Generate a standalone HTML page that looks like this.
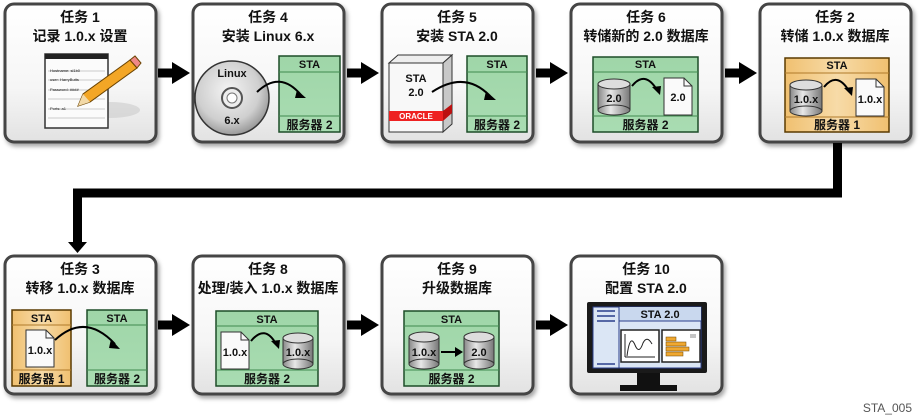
<!DOCTYPE html>
<html><head><meta charset="utf-8"><style>
html,body{margin:0;padding:0;background:#fff;}
svg{display:block;}
text{font-family:"Liberation Sans","Noto Sans CJK SC",sans-serif;font-weight:bold;fill:#111;}
</style></head><body>
<svg width="922" height="418" viewBox="0 0 922 418" xmlns="http://www.w3.org/2000/svg">
<defs>
<linearGradient id="card" x1="0" y1="0" x2="0" y2="1"><stop offset="0" stop-color="#ffffff"/><stop offset="0.6" stop-color="#f6f6f6"/><stop offset="1" stop-color="#e2e2e2"/></linearGradient>
<linearGradient id="grn" x1="0" y1="0" x2="0" y2="1"><stop offset="0" stop-color="#9fd6a8"/><stop offset="1" stop-color="#a9dcb2"/></linearGradient>
<linearGradient id="org" x1="0" y1="0" x2="1" y2="0"><stop offset="0" stop-color="#f0c070"/><stop offset="0.5" stop-color="#f7dba8"/><stop offset="1" stop-color="#f0c070"/></linearGradient>
<linearGradient id="cyl" x1="0" y1="0" x2="1" y2="0"><stop offset="0" stop-color="#888"/><stop offset="0.4" stop-color="#e8e8e8"/><stop offset="1" stop-color="#777"/></linearGradient>
<radialGradient id="cd" cx="0.45" cy="0.4" r="0.6"><stop offset="0" stop-color="#f4f4f4"/><stop offset="0.7" stop-color="#cfcfcf"/><stop offset="1" stop-color="#9a9a9a"/></radialGradient>
<filter id="sh" x="-10%" y="-10%" width="125%" height="125%"><feDropShadow dx="2" dy="3" stdDeviation="2" flood-color="#000" flood-opacity="0.35"/></filter>
<g id="arr"><rect x="0" y="-4.5" width="15" height="9" fill="#000"/><polygon points="14,-11 32,0 14,11" fill="#000"/></g>
</defs>

<!-- cards -->
<g fill="url(#card)" stroke="#444" stroke-width="3" filter="url(#sh)">
<rect x="5" y="4" width="151" height="138" rx="9"/>
<rect x="193" y="4" width="151" height="138" rx="9"/>
<rect x="382" y="4" width="151" height="138" rx="9"/>
<rect x="571" y="4" width="151" height="138" rx="9"/>
<rect x="760" y="4" width="151" height="138" rx="9"/>
<rect x="5" y="256" width="151" height="138" rx="9"/>
<rect x="193" y="256" width="151" height="138" rx="9"/>
<rect x="382" y="256" width="151" height="138" rx="9"/>
<rect x="571" y="256" width="151" height="138" rx="9"/>
</g>

<!-- arrows -->
<use href="#arr" x="158" y="73"/><use href="#arr" x="347" y="73"/><use href="#arr" x="536" y="73"/><use href="#arr" x="725" y="73"/>
<use href="#arr" x="158" y="325"/><use href="#arr" x="347" y="325"/><use href="#arr" x="536" y="325"/>
<path d="M837.5 143 V193 H77.5 V244" fill="none" stroke="#000" stroke-width="9" stroke-linejoin="miter"/>
<polygon points="68,242 87,242 77.5,253" fill="#000"/>

<!-- titles -->
<g font-size="14" text-anchor="middle">
<text x="80" y="22">任务 1</text><text x="80" y="41">记录 1.0.x 设置</text>
<text x="268" y="22">任务 4</text><text x="268" y="41">安装 Linux 6.x</text>
<text x="457" y="22">任务 5</text><text x="457" y="41">安装 STA 2.0</text>
<text x="646" y="22">任务 6</text><text x="646" y="41">转储新的 2.0 数据库</text>
<text x="835" y="22">任务 2</text><text x="835" y="41">转储 1.0.x 数据库</text>
<text x="80" y="274">任务 3</text><text x="80" y="293">转移 1.0.x 数据库</text>
<text x="268" y="274">任务 8</text><text x="268" y="293">处理/装入 1.0.x 数据库</text>
<text x="457" y="274">任务 9</text><text x="457" y="293">升级数据库</text>
<text x="646" y="274">任务 10</text><text x="646" y="293">配置 STA 2.0</text>
</g>

<!-- task1 notepad -->
<ellipse cx="110" cy="110" rx="30" ry="8" fill="#ccc" opacity="0.6"/>
<rect x="45" y="54" width="63" height="74" fill="#fbfbfb" stroke="#333" stroke-width="1.5"/>
<rect x="45" y="54" width="63" height="5" fill="#222"/>
<g stroke="#bbb" stroke-width="0.8"><line x1="48" y1="71" x2="105" y2="71"/><line x1="48" y1="80" x2="105" y2="80"/><line x1="48" y1="90" x2="105" y2="90"/><line x1="48" y1="99" x2="105" y2="99"/><line x1="48" y1="109" x2="105" y2="109"/><line x1="48" y1="118" x2="105" y2="118"/></g>
<g font-size="4" font-weight="normal"><text x="50" y="72" style="font-weight:normal">Hostname: sl1b0</text><text x="50" y="81" style="font-weight:normal">user: HarryButts</text><text x="50" y="91" style="font-weight:normal">Password: ####</text><text x="50" y="110" style="font-weight:normal">Ports: a1</text></g>
<polygon points="78,106 83,94 130,60 137,68 90,102" fill="#f3a626" stroke="#6b4300" stroke-width="1"/>
<polygon points="130,60 135,56 141,63 137,68" fill="#e88" stroke="#6b4300" stroke-width="1"/>
<polygon points="78,106 83,94 90,102" fill="#f2d9a8"/>

<!-- task4 CD -->
<circle cx="232" cy="98" r="37" fill="url(#cd)" stroke="#333" stroke-width="1.5"/>
<circle cx="232" cy="98" r="10" fill="#eee" stroke="#555" stroke-width="2"/>
<circle cx="232" cy="98" r="5" fill="#fff" stroke="#777"/>
<text x="232" y="77" font-size="11" text-anchor="middle">Linux</text>
<text x="232" y="124" font-size="11" text-anchor="middle">6.x</text>
<g id="srv4">
<rect x="279" y="56" width="61" height="76" fill="url(#grn)" stroke="#1d4d28" stroke-width="1.5"/>
<line x1="279" y1="72" x2="340" y2="72" stroke="#3f8a4e"/><line x1="279" y1="116" x2="340" y2="116" stroke="#3f8a4e"/>
<text x="309.5" y="68" font-size="11" text-anchor="middle">STA</text>
<text x="309.5" y="129" font-size="12" text-anchor="middle">服务器 2</text>
</g>
<path d="M257 92 Q280 70 301 95" fill="none" stroke="#000" stroke-width="2"/><polygon points="297,90 306,98 295,98" fill="#000"/>

<!-- task5 box -->
<polygon points="389,63 398,55 452,55 443,63" fill="#eee" stroke="#333"/>
<polygon points="443,63 452,55 452,124 443,132" fill="#c8c8c8" stroke="#333"/>
<rect x="389" y="63" width="54" height="69" fill="#f8f8f8" stroke="#333"/>
<rect x="389" y="111" width="54" height="10" fill="#e22"/><polygon points="443,111 452,104 452,113 443,121" fill="#b11"/>
<text x="416" y="119" font-size="8" text-anchor="middle" style="fill:#fff">ORACLE</text>
<text x="416" y="82" font-size="11" text-anchor="middle">STA</text>
<text x="416" y="96" font-size="11" text-anchor="middle">2.0</text>
<rect x="467" y="56" width="60" height="76" fill="url(#grn)" stroke="#1d4d28" stroke-width="1.5"/>
<line x1="467" y1="72" x2="527" y2="72" stroke="#3f8a4e"/><line x1="467" y1="116" x2="527" y2="116" stroke="#3f8a4e"/>
<text x="497" y="68" font-size="11" text-anchor="middle">STA</text>
<text x="497" y="129" font-size="12" text-anchor="middle">服务器 2</text>
<path d="M432 92 Q465 70 490 96" fill="none" stroke="#000" stroke-width="2"/><polygon points="486,91 496,100 484,100" fill="#000"/>

<!-- task6 -->
<rect x="593" y="57" width="105" height="75" fill="url(#grn)" stroke="#1d4d28" stroke-width="1.5"/>
<line x1="593" y1="72" x2="698" y2="72" stroke="#3f8a4e"/><line x1="593" y1="116" x2="698" y2="116" stroke="#3f8a4e"/>
<text x="645.5" y="68" font-size="11" text-anchor="middle">STA</text>
<text x="645.5" y="129" font-size="12" text-anchor="middle">服务器 2</text>
<g><rect x="598" y="84" width="32" height="26" fill="url(#cyl)" stroke="#333"/><ellipse cx="614" cy="110" rx="16" ry="5" fill="url(#cyl)" stroke="#333"/><ellipse cx="614" cy="84" rx="16" ry="5" fill="#ddd" stroke="#333"/><text x="614" y="102" font-size="11" text-anchor="middle">2.0</text></g>
<polygon points="664,78 684,78 692,86 692,115 664,115" fill="#fafafa" stroke="#333"/><polyline points="684,78 684,86 692,86" fill="none" stroke="#333"/>
<text x="678" y="101" font-size="11" text-anchor="middle">2.0</text>
<path d="M632 86 Q645 70 657 90" fill="none" stroke="#000" stroke-width="2"/><polygon points="652,87 660,95 661,86" fill="#000"/>

<!-- task2 -->
<rect x="785" y="58" width="104" height="74" fill="url(#org)" stroke="#5a3a00" stroke-width="1.5"/>
<line x1="785" y1="73" x2="889" y2="73" stroke="#b07a2a"/><line x1="785" y1="117" x2="889" y2="117" stroke="#b07a2a"/>
<text x="837" y="69" font-size="11" text-anchor="middle">STA</text>
<text x="837" y="129" font-size="12" text-anchor="middle">服务器 1</text>
<g><rect x="790" y="85" width="32" height="26" fill="url(#cyl)" stroke="#333"/><ellipse cx="806" cy="111" rx="16" ry="5" fill="url(#cyl)" stroke="#333"/><ellipse cx="806" cy="85" rx="16" ry="5" fill="#ddd" stroke="#333"/><text x="806" y="103" font-size="11" text-anchor="middle">1.0.x</text></g>
<polygon points="856,79 876,79 884,87 884,116 856,116" fill="#fafafa" stroke="#333"/><polyline points="876,79 876,87 884,87" fill="none" stroke="#333"/>
<text x="870" y="103" font-size="11" text-anchor="middle">1.0.x</text>
<path d="M824 87 Q837 71 849 91" fill="none" stroke="#000" stroke-width="2"/><polygon points="844,88 852,96 853,87" fill="#000"/>

<!-- task3 -->
<rect x="12" y="310" width="59" height="76" fill="url(#org)" stroke="#5a3a00" stroke-width="1.5"/>
<line x1="12" y1="325" x2="71" y2="325" stroke="#b07a2a"/><line x1="12" y1="370" x2="71" y2="370" stroke="#b07a2a"/>
<text x="41.5" y="322" font-size="11" text-anchor="middle">STA</text>
<text x="41.5" y="383" font-size="12" text-anchor="middle">服务器 1</text>
<polygon points="26,330 46,330 54,338 54,367 26,367" fill="#fafafa" stroke="#333"/><polyline points="46,330 46,338 54,338" fill="none" stroke="#333"/>
<text x="40" y="354" font-size="11" text-anchor="middle">1.0.x</text>
<rect x="87" y="310" width="60" height="76" fill="url(#grn)" stroke="#1d4d28" stroke-width="1.5"/>
<line x1="87" y1="325" x2="147" y2="325" stroke="#3f8a4e"/><line x1="87" y1="370" x2="147" y2="370" stroke="#3f8a4e"/>
<text x="117" y="322" font-size="11" text-anchor="middle">STA</text>
<text x="117" y="383" font-size="12" text-anchor="middle">服务器 2</text>
<path d="M55 340 Q85 312 115 344" fill="none" stroke="#000" stroke-width="2"/><polygon points="111,339 120,349 109,348" fill="#000"/>

<!-- task8 -->
<rect x="216" y="311" width="102" height="75" fill="url(#grn)" stroke="#1d4d28" stroke-width="1.5"/>
<line x1="216" y1="326" x2="318" y2="326" stroke="#3f8a4e"/><line x1="216" y1="370" x2="318" y2="370" stroke="#3f8a4e"/>
<text x="267" y="323" font-size="11" text-anchor="middle">STA</text>
<text x="267" y="383" font-size="12" text-anchor="middle">服务器 2</text>
<polygon points="221,332 241,332 249,340 249,369 221,369" fill="#fafafa" stroke="#333"/><polyline points="241,332 241,340 249,340" fill="none" stroke="#333"/>
<text x="235" y="356" font-size="11" text-anchor="middle">1.0.x</text>
<g><rect x="283" y="338" width="30" height="26" fill="url(#cyl)" stroke="#333"/><ellipse cx="298" cy="364" rx="15" ry="5" fill="url(#cyl)" stroke="#333"/><ellipse cx="298" cy="338" rx="15" ry="5" fill="#ddd" stroke="#333"/><text x="298" y="356" font-size="11" text-anchor="middle">1.0.x</text></g>
<path d="M251 341 Q265 324 276 344" fill="none" stroke="#000" stroke-width="2"/><polygon points="271,341 279,349 280,340" fill="#000"/>

<!-- task9 -->
<rect x="404" y="311" width="95" height="75" fill="url(#grn)" stroke="#1d4d28" stroke-width="1.5"/>
<line x1="404" y1="326" x2="499" y2="326" stroke="#3f8a4e"/><line x1="404" y1="370" x2="499" y2="370" stroke="#3f8a4e"/>
<text x="451.5" y="323" font-size="11" text-anchor="middle">STA</text>
<text x="451.5" y="383" font-size="12" text-anchor="middle">服务器 2</text>
<g><rect x="409" y="337" width="30" height="27" fill="url(#cyl)" stroke="#333"/><ellipse cx="424" cy="364" rx="15" ry="5" fill="url(#cyl)" stroke="#333"/><ellipse cx="424" cy="337" rx="15" ry="5" fill="#ddd" stroke="#333"/><text x="424" y="356" font-size="11" text-anchor="middle">1.0.x</text></g>
<g><rect x="464" y="337" width="30" height="27" fill="url(#cyl)" stroke="#333"/><ellipse cx="479" cy="364" rx="15" ry="5" fill="url(#cyl)" stroke="#333"/><ellipse cx="479" cy="337" rx="15" ry="5" fill="#ddd" stroke="#333"/><text x="479" y="356" font-size="11" text-anchor="middle">2.0</text></g>
<line x1="441" y1="352" x2="456" y2="352" stroke="#000" stroke-width="2"/><polygon points="455,347 463,352 455,357" fill="#000"/>

<!-- task10 monitor -->
<rect x="637" y="372" width="23" height="14" fill="#111"/>
<rect x="620" y="385" width="57" height="6" fill="#111"/>
<rect x="587" y="302" width="120" height="71" rx="2" fill="#1a1a1a"/>
<rect x="593" y="307" width="108" height="61" fill="#dbe6f5" stroke="#2b3f8c" stroke-width="1"/>
<rect x="619" y="307" width="82" height="14" fill="#c9d8ee"/>
<line x1="619" y1="307" x2="619" y2="368" stroke="#2b3f8c"/>
<line x1="619" y1="321" x2="701" y2="321" stroke="#2b3f8c"/>
<g stroke="#2b3f8c" stroke-width="1.5"><line x1="597" y1="311" x2="615" y2="311"/><line x1="597" y1="316" x2="615" y2="316"/><line x1="597" y1="321" x2="615" y2="321"/><line x1="597" y1="364" x2="615" y2="364"/></g>
<text x="660" y="318" font-size="11" text-anchor="middle">STA 2.0</text>
<rect x="621" y="330" width="38" height="32" fill="#fff" stroke="#222" stroke-width="1.5"/>
<path d="M625 357 L625 334 M625 357 L655 357" stroke="#222" fill="none"/>
<path d="M627 356 Q630 333 635 345 Q639 355 643 343 Q647 335 652 344" stroke="#222" fill="none"/>
<rect x="662" y="330" width="38" height="32" fill="#fff" stroke="#222" stroke-width="1.5"/>
<g fill="#f0a830" stroke="#6b4300" stroke-width="0.5"><rect x="666" y="337" width="10" height="4"/><rect x="666" y="342" width="20" height="4"/><rect x="666" y="347" width="23" height="4"/><rect x="666" y="352" width="17" height="4"/></g>
<g stroke="#888"><line x1="690" y1="335" x2="696" y2="335"/><line x1="690" y1="337" x2="696" y2="337"/></g>

<text x="912" y="412" font-size="12" text-anchor="end" style="font-weight:normal;fill:#555">STA_005</text>
</svg>
</body></html>
